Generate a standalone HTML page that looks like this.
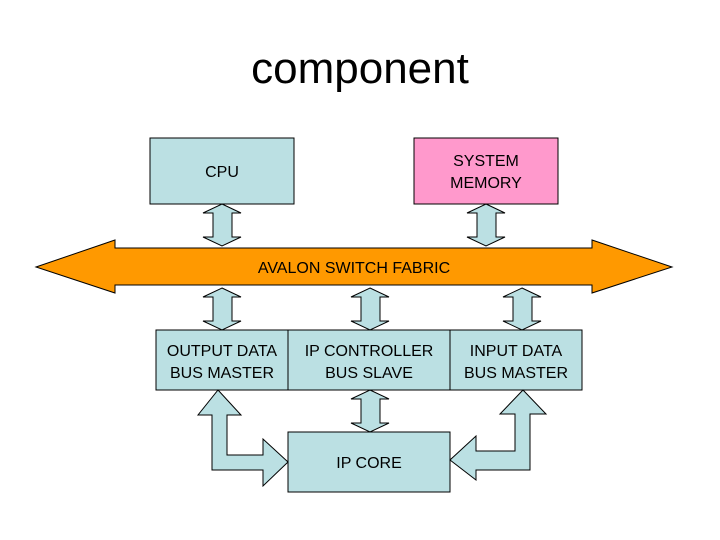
<!DOCTYPE html>
<html><head><meta charset="utf-8"><style>
html,body{margin:0;padding:0;background:#fff;}
svg{display:block;}
text{font-family:"Liberation Sans",Arial,sans-serif;fill:#000;}
</style></head><body>
<svg width="720" height="540" viewBox="0 0 720 540" xmlns="http://www.w3.org/2000/svg">
<rect width="720" height="540" fill="#fff"/>
<text x="360" y="83" font-size="44" text-anchor="middle">component</text>
<g stroke="#000" stroke-width="1">
<!-- orange fabric arrow -->
<polygon fill="#ff9900" points="36,267 115,240 115,248 592,248 592,240 672,267 592,293 592,285 115,285 115,293"/>
<!-- boxes -->
<rect x="150" y="138" width="144" height="66" fill="#bbe0e3"/>
<rect x="414" y="138" width="144" height="66" fill="#ff99cc"/>
<rect x="156" y="330" width="132" height="60" fill="#bbe0e3"/>
<rect x="288" y="330" width="162" height="60" fill="#bbe0e3"/>
<rect x="450" y="330" width="132" height="60" fill="#bbe0e3"/>
<rect x="288" y="432" width="162" height="60" fill="#bbe0e3"/>
<!-- vertical double arrows -->
<g fill="#bbe0e3">
<polygon points="222,204 241,213 232,213 232,237 241,237 222,246 203,237 213,237 213,213 203,213"/>
<polygon points="486,204 505,213 496,213 496,237 505,237 486,246 467,237 477,237 477,213 467,213"/>
<polygon points="222,288 241,297 232,297 232,321 241,321 222,330 203,321 213,321 213,297 203,297"/>
<polygon points="370,288 389,297 380,297 380,321 389,321 370,330 351,321 361,321 361,297 351,297"/>
<polygon points="522,288 541,297 532,297 532,321 541,321 522,330 503,321 513,321 513,297 503,297"/>
<polygon points="370,390 389,399 380,399 380,423 389,423 370,432 351,423 361,423 361,399 351,399"/>
<!-- bent arrows -->
<polygon points="218,390 241,415 227,415 227,455 263,455 263,439 288,462 263,486 263,470 212,470 212,415 198,415"/>
<polygon points="523,390 546,414 530,414 530,470 476,470 476,480 450,460 476,436 476,451 515,451 515,414 500,414"/>
</g>
</g>
<g font-size="16">
<text x="222" y="177" text-anchor="middle">CPU</text>
<text x="486" y="166" text-anchor="middle">SYSTEM</text>
<text x="486" y="188" text-anchor="middle">MEMORY</text>
<text x="354" y="273" text-anchor="middle">AVALON SWITCH FABRIC</text>
<text x="222" y="356" text-anchor="middle">OUTPUT DATA</text>
<text x="222" y="378" text-anchor="middle">BUS MASTER</text>
<text x="369" y="356" text-anchor="middle">IP CONTROLLER</text>
<text x="369" y="378" text-anchor="middle">BUS SLAVE</text>
<text x="516" y="356" text-anchor="middle">INPUT DATA</text>
<text x="516" y="378" text-anchor="middle">BUS MASTER</text>
<text x="369" y="468" text-anchor="middle">IP CORE</text>
</g>
</svg>
</body></html>
